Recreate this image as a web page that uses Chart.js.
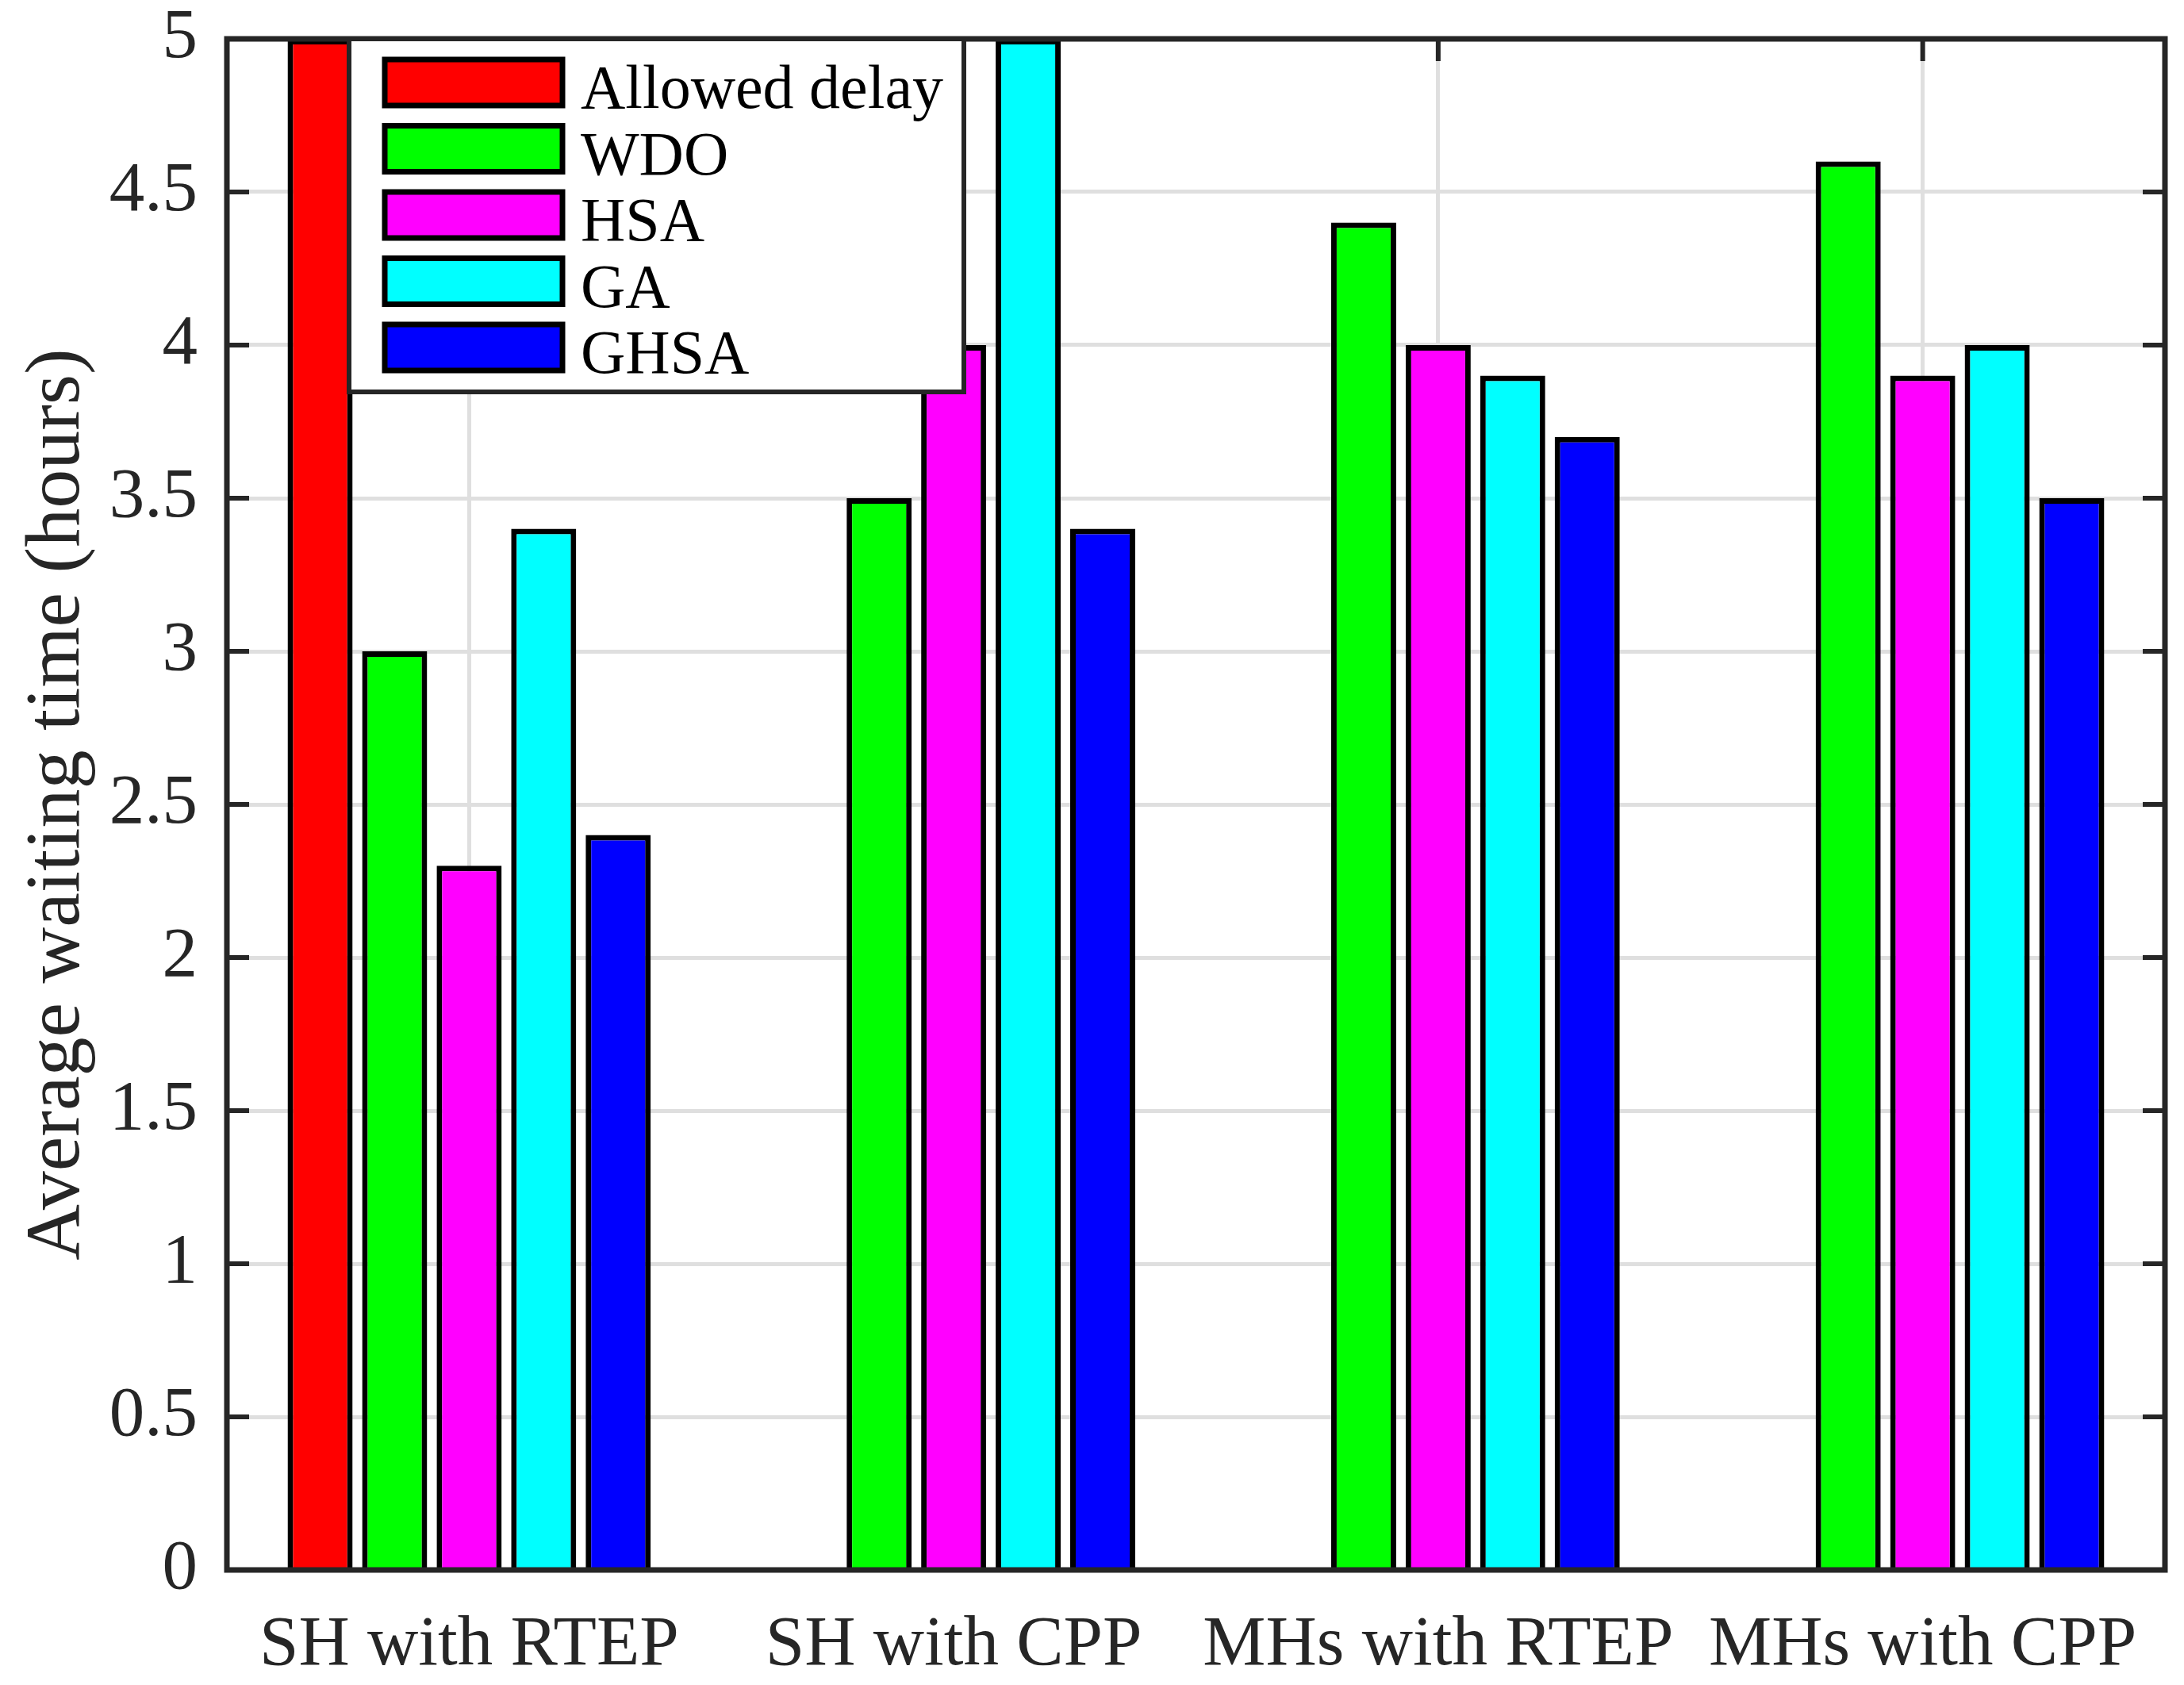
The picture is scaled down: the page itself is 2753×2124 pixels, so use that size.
<!DOCTYPE html>
<html>
<head>
<meta charset="utf-8">
<script src="https://cdn.jsdelivr.net/npm/chart.js@4.4.1/dist/chart.umd.min.js"></script>
<style>
    html, body { margin: 0; padding: 0; background: #fff; }
    canvas { display: block; }
</style>
</head>
<body>
<canvas id="waitChart" width="2753" height="2124"></canvas>
<script>
// Data
const categories = ['SH with RTEP', 'SH with CPP', 'MHs with RTEP', 'MHs with CPP'];
const allowedDelay = [5, null, null, null];
const wdo = [3.0, 3.5, 4.4, 4.6];
const hsa = [2.3, 4.0, 4.0, 3.9];
const ga = [3.4, 5.0, 3.9, 4.0];
const ghsa = [2.4, 3.4, 3.7, 3.5];
const yTickLabels = ['0', '0.5', '1', '1.5', '2', '2.5', '3', '3.5', '4', '4.5', '5'];

const FONT = "'Liberation Serif', 'Times New Roman', serif";
const AXIS_COLOR = '#262626';
const GRID_COLOR = '#dfdfdf';

function bar(label, data, color) {
    return {
        label: label,
        data: data,
        backgroundColor: color,
        borderColor: '#000000',
        borderWidth: 7,
        categoryPercentage: 0.769,
        barPercentage: 0.873
    };
}

// axis box, inner ticks and legend, the way MATLAB draws them
const matlabFrame = {
    id: 'matlabFrame',
    beforeDatasetsDraw(chart) {
        const ctx = chart.ctx;
        const a = chart.chartArea;
        const xs = chart.scales.x;
        const ys = chart.scales.y;
        const len = 28;
        ctx.save();
        ctx.strokeStyle = AXIS_COLOR;
        ctx.lineWidth = 6;
        ctx.beginPath();
        ys.ticks.forEach((t, i) => {
            const y = ys.getPixelForTick(i);
            ctx.moveTo(a.left, y); ctx.lineTo(a.left + len, y);
            ctx.moveTo(a.right, y); ctx.lineTo(a.right - len, y);
        });
        xs.ticks.forEach((t, i) => {
            const x = xs.getPixelForTick(i);
            ctx.moveTo(x, a.top); ctx.lineTo(x, a.top + len);
            ctx.moveTo(x, a.bottom); ctx.lineTo(x, a.bottom - len);
        });
        ctx.stroke();
        ctx.restore();
    },
    afterDatasetsDraw(chart) {
        const ctx = chart.ctx;
        const a = chart.chartArea;
        ctx.save();
        ctx.strokeStyle = AXIS_COLOR;
        ctx.lineWidth = 7;
        ctx.strokeRect(a.left, a.top, a.right - a.left, a.bottom - a.top);

        // legend box in the upper left
        const bx = a.left + 154, by = a.top, bw = 775, bh = 445;
        ctx.fillStyle = '#ffffff';
        ctx.fillRect(bx, by, bw, bh);
        ctx.lineWidth = 6;
        ctx.strokeRect(bx, by, bw, bh);

        ctx.font = '78px ' + FONT;
        ctx.textBaseline = 'alphabetic';
        ctx.textAlign = 'left';
        chart.data.datasets.forEach((ds, i) => {
            const cy = by + 55 + i * 83.5;
            ctx.fillStyle = ds.backgroundColor;
            ctx.fillRect(bx + 45, cy - 29, 224, 58);
            ctx.strokeStyle = '#000000';
            ctx.lineWidth = 7;
            ctx.strokeRect(bx + 45, cy - 29, 224, 58);
            ctx.fillStyle = '#000000';
            ctx.fillText(ds.label, bx + 292, cy + 32);
        });
        ctx.restore();
    }
};

function noPad(scale) {
    scale.paddingTop = 0;
    scale.paddingBottom = 0;
    scale.paddingLeft = 0;
    scale.paddingRight = 0;
}

const ctx = document.getElementById('waitChart').getContext('2d');
new Chart(ctx, {
    type: 'bar',
    data: {
        labels: categories,
        datasets: [
            bar('Allowed delay', allowedDelay, '#ff0000'),
            bar('WDO', wdo, '#00ff00'),
            bar('HSA', hsa, '#ff00ff'),
            bar('GA', ga, '#00ffff'),
            bar('GHSA', ghsa, '#0000ff')
        ]
    },
    options: {
        responsive: false,
        animation: false,
        devicePixelRatio: 1,
        layout: {
            padding: { top: 49, right: 24, left: 0, bottom: 0 }
        },
        plugins: {
            legend: { display: false },
            tooltip: { enabled: false }
        },
        scales: {
            x: {
                offset: true,
                afterFit(scale) { scale.height = 145; noPad(scale); },
                border: { display: false },
                grid: {
                    offset: false,
                    color: GRID_COLOR,
                    lineWidth: 5,
                    drawTicks: false
                },
                ticks: {
                    color: AXIS_COLOR,
                    padding: 42,
                    maxRotation: 0,
                    autoSkip: false,
                    font: { family: FONT, size: 89 }
                }
            },
            y: {
                min: 0,
                max: 5,
                afterFit(scale) { scale.width = 286; noPad(scale); },
                border: { display: false },
                grid: {
                    color: GRID_COLOR,
                    lineWidth: 5,
                    drawTicks: false
                },
                ticks: {
                    stepSize: 0.5,
                    color: AXIS_COLOR,
                    padding: 37,
                    font: { family: FONT, size: 89 },
                    callback: (value, index) => yTickLabels[index]
                },
                title: {
                    display: true,
                    text: 'Average waiting time (hours)',
                    color: AXIS_COLOR,
                    padding: { top: 14, bottom: 0 },
                    font: { family: FONT, size: 98 }
                }
            }
        }
    },
    plugins: [matlabFrame]
});
</script>
</body>
</html>
